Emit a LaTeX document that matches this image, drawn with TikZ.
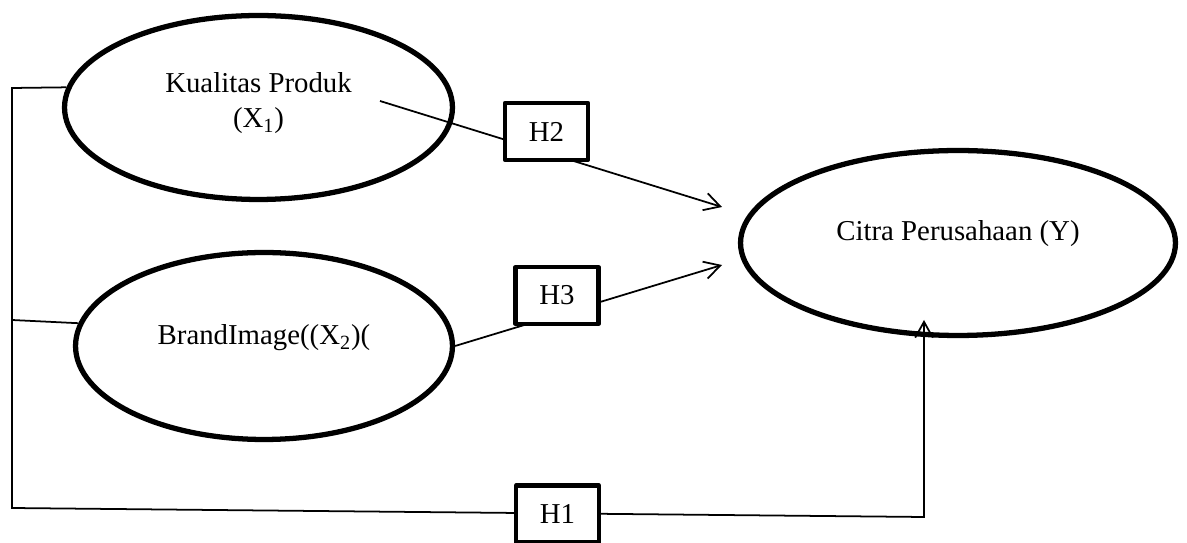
\documentclass[tikz,border=0pt]{standalone}
\usepackage{fontspec}
\setmainfont{Liberation Serif}
\usetikzlibrary{shapes.geometric,arrows.meta}

\begin{document}
\begin{tikzpicture}[x=0.02cm, y=-0.02cm,
	latent/.style={draw, line width=3pt, ellipse, inner sep=0pt, align=center, font=\fontsize{16.4}{19.9}\selectfont},
	hyp/.style={draw, line width=2.4pt, line join=round, fill=white, minimum width=1.66cm, minimum height=1.14cm, inner sep=0pt, font=\fontsize{16.4}{19.9}\selectfont},
	link/.style={line width=1pt, -{Straight Barb[length=9pt, width=10pt]}}]
	\useasboundingbox (0,0) rectangle (1187,543);

	\node[latent, minimum width=7.76cm, minimum height=3.68cm, text depth=8pt] (x1) at (258.5,107.5) {Kualitas Produk\\(X\textsubscript{1})};
	\node[latent, minimum width=7.54cm, minimum height=3.74cm, text depth=13pt] (x2) at (264,346) {BrandImage((X\textsubscript{2})(};
	\node[latent, minimum width=8.7cm, minimum height=3.7cm, text depth=14pt] (y) at (958,243) {Citra Perusahaan (Y)};

	\coordinate (x1out) at (380,101);
	\coordinate (yupper) at (722,207);
	\coordinate (ylower) at (722,265);
	\coordinate (ltop) at (12,88);
	\coordinate (lmid) at (12,320);
	\coordinate (lbot) at (12,508);
	\coordinate (rbot) at (924,517);
	\coordinate (ytip) at (924,320);

	\draw[link] (x1out) -- (yupper);
	\draw[link] (x2.east) -- (ylower);
	\draw[line width=1pt] (x2.173) -- (lmid);
	\draw[link] (x1.174) -- (ltop) -- (lbot) -- (rbot) -- (ytip);

	\node[hyp] (h2) at (546.5,131.5) {H2};
	\node[hyp] (h3) at (557,295.5) {H3};
	\node[hyp] (h1) at (557.5,514) {H1};
\end{tikzpicture}
\end{document}
